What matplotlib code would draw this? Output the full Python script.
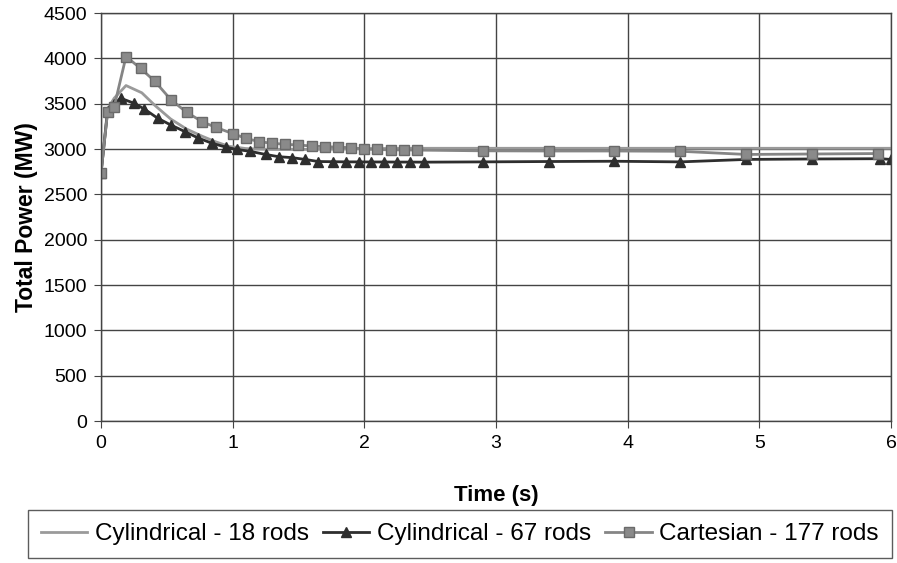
import matplotlib
matplotlib.use("Agg")
import matplotlib.pyplot as plt

plt.rcParams['font.family'] = ['Liberation Sans', 'DejaVu Sans']

# Cylindrical - 18 rods (line only)
t_c18 = [0, 0.05, 0.1, 0.19, 0.31, 0.41, 0.53, 0.65, 0.77, 0.87, 0.97,
         1.1, 1.3, 1.5, 2.0, 2.5, 3.0, 4.0, 5.0, 6.0]
p_c18 = [2730, 3440, 3560, 3700, 3620, 3480, 3330, 3220, 3140, 3080, 3030,
         3005, 2995, 2995, 3005, 3008, 3008, 3008, 3008, 3008]

# Cylindrical - 67 rods (triangles)
t_c67 = [0, 0.05, 0.1, 0.15, 0.25, 0.33, 0.43, 0.53, 0.64, 0.74, 0.84, 0.95,
         1.03, 1.13, 1.25, 1.35, 1.45, 1.55, 1.65, 1.76, 1.86, 1.96,
         2.05, 2.15, 2.25, 2.35, 2.45, 2.9, 3.4, 3.9, 4.4, 4.9, 5.4, 5.92, 6.0]
p_c67 = [2730, 3420, 3500, 3560, 3505, 3440, 3340, 3265, 3190, 3120, 3065, 3020,
         2995, 2975, 2940, 2915, 2905, 2885, 2862, 2860, 2858, 2858,
         2857, 2857, 2856, 2856, 2855, 2858, 2862, 2865, 2858, 2885, 2890, 2893, 2885]

# Cartesian - 177 rods (squares)
t_cart = [0, 0.05, 0.1, 0.19, 0.3, 0.41, 0.53, 0.65, 0.77, 0.87, 1.0,
          1.1, 1.2, 1.3, 1.4, 1.5, 1.6, 1.7, 1.8, 1.9, 2.0,
          2.1, 2.2, 2.3, 2.4, 2.9, 3.4, 3.9, 4.4, 4.9, 5.4, 5.9]
p_cart = [2730, 3410, 3465, 4020, 3890, 3745, 3545, 3405, 3300, 3240, 3170,
          3118, 3081, 3063, 3052, 3044, 3033, 3026, 3020, 3015, 3000,
          2995, 2990, 2990, 2988, 2980, 2978, 2978, 2975, 2940, 2945, 2950]

fig = plt.figure(figsize=(8.97, 5.63), dpi=100)
ax = fig.add_axes([0.1126, 0.2522, 0.8807, 0.7247])

ax.plot(t_c18, p_c18, color='#9a9a9a', lw=2, label='Cylindrical - 18 rods')
ax.plot(t_c67, p_c67, color='#2e2e2e', lw=2, marker='^', ms=7,
        label='Cylindrical - 67 rods')
ax.plot(t_cart, p_cart, color='#858585', lw=2, marker='s', ms=6.5,
        mfc='#8a8a8a', mec='#6a6a6a', label='Cartesian - 177 rods')

ax.set_xlim(0, 6)
ax.set_ylim(0, 4500)
ax.set_xticks(range(0, 7))
ax.set_yticks(range(0, 4501, 500))
ax.grid(True, color='#444444', lw=1)
ax.set_axisbelow(True)
for s in ax.spines.values():
    s.set_color('#444444')
    s.set_linewidth(1)
ax.tick_params(labelsize=14, length=5, color='#444444', pad=5)

ax.set_xlabel('Time (s)', fontsize=16, fontweight='bold', labelpad=24)
ax.set_ylabel('Total Power (MW)', fontsize=16.5, fontweight='bold', labelpad=4)

leg = fig.legend(loc='center', bbox_to_anchor=(0.5126, 0.0515), ncol=3,
                 fontsize=17.5, frameon=True, fancybox=False, edgecolor='#333333',
                 handlelength=1.9, handletextpad=0.3, columnspacing=0.6,
                 borderpad=0.55, borderaxespad=0)
leg.get_frame().set_linewidth(1)

fig.savefig('out.png', dpi=100)
